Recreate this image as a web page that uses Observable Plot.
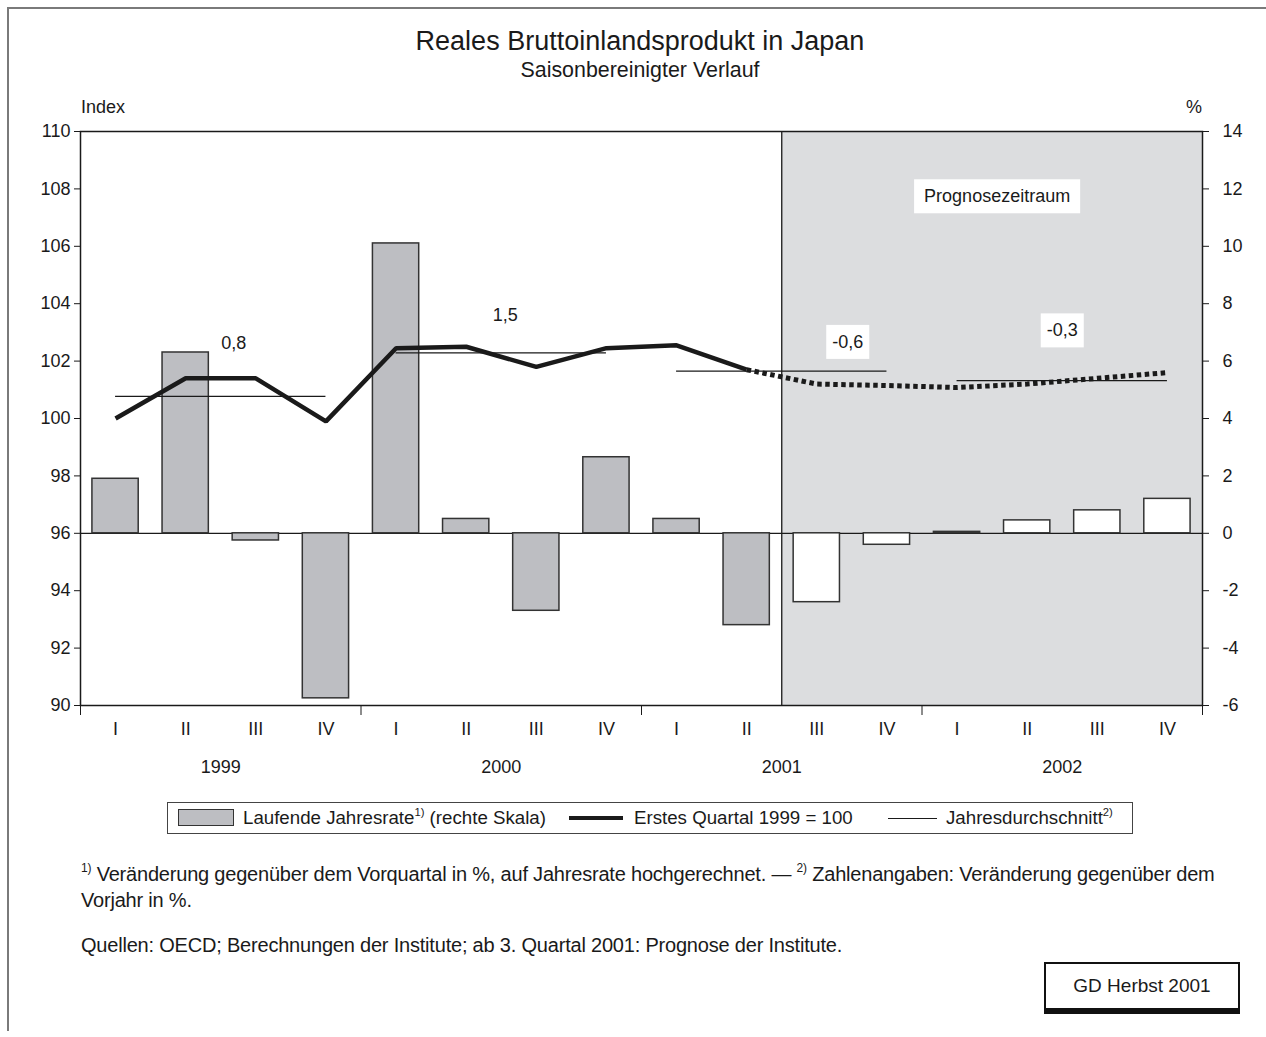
<!DOCTYPE html>
<html><head><meta charset="utf-8">
<script src="https://cdn.jsdelivr.net/npm/d3@7"></script>
<script src="https://cdn.jsdelivr.net/npm/@observablehq/plot@0.6"></script>
<style>
body{margin:0;background:#fff;font-family:"Liberation Sans",Arial,sans-serif;color:#1a1a1a}
#page{position:relative;width:1266px;height:1037px;overflow:hidden;background:#fff}
.abs{position:absolute;white-space:nowrap}
sup{font-size:0.6em;line-height:0;position:relative;top:-0.1em;vertical-align:super}
</style></head><body><div id="page">
<div class="abs" style="left:8px;top:7px;width:1258px;height:0;border-top:2px solid #7a7a7a"></div>
<div class="abs" style="left:7px;top:7px;width:0;height:1024px;border-left:2px solid #7a7a7a"></div>
<div class="abs" style="left:240px;width:800px;top:26px;text-align:center;font-size:27px">Reales Bruttoinlandsprodukt in Japan</div>
<div class="abs" style="left:240px;width:800px;top:58px;text-align:center;font-size:21.4px">Saisonbereinigter Verlauf</div>
<div class="abs" style="left:81px;top:97px;font-size:18px">Index</div>
<div class="abs" style="left:1186px;top:97px;font-size:18px">%</div>
<div id="chart" class="abs" style="left:0;top:90px"></div>
<div class="abs" id="legend" style="left:167px;top:802px;width:964px;height:30px;border:1px solid #444;font-size:18.7px">
  <div class="abs" style="left:10px;top:6px;width:54px;height:15px;background:#bdbec2;border:1.5px solid #333"></div>
  <div class="abs" style="left:75px;top:0;line-height:30px">Laufende Jahresrate<sup>1)</sup> (rechte Skala)</div>
  <div class="abs" style="left:401px;top:13px;width:54px;height:4px;background:#1a1a1a"></div>
  <div class="abs" style="left:466px;top:0;line-height:30px">Erstes Quartal 1999 = 100</div>
  <div class="abs" style="left:720px;top:15px;width:49px;height:1.3px;background:#1a1a1a"></div>
  <div class="abs" style="left:778px;top:0;line-height:30px">Jahresdurchschnitt<sup>2)</sup></div>
</div>
<div class="abs" style="left:81px;top:861px;font-size:20px;line-height:26px;letter-spacing:-0.2px"><sup>1)</sup> Veränderung gegenüber dem Vorquartal in %, auf Jahresrate hochgerechnet. — <sup>2)</sup> Zahlenangaben: Veränderung gegenüber dem<br>Vorjahr in %.</div>
<div class="abs" style="left:81px;top:934px;font-size:20px;letter-spacing:-0.2px">Quellen: OECD; Berechnungen der Institute; ab 3. Quartal 2001: Prognose der Institute.</div>
<div class="abs" style="left:1044px;top:962px;width:192px;height:44px;border:2px solid #111;border-bottom-width:6px;font-size:19px;line-height:44px;text-align:center">GD Herbst 2001</div>
</div>
<script>
// ---- data ----
const quarters = ["I","II","III","IV","I","II","III","IV","I","II","III","IV","I","II","III","IV"];
const years = [1999, 2000, 2001, 2002];
// Laufende Jahresrate, % (right scale)
const rate = [1.9, 6.3, -0.25, -5.75, 10.1, 0.5, -2.7, 2.65, 0.5, -3.2, -2.4, -0.4, 0.05, 0.45, 0.8, 1.2];
// Index, first quarter 1999 = 100 (left scale)
const index = [100.0, 101.4, 101.4, 99.9, 102.45, 102.5, 101.8, 102.45, 102.55, 101.7, 101.2, 101.15, 101.08, 101.2, 101.4, 101.6];
// Jahresdurchschnitt (index level) and labels (change vs. previous year)
const annualAvg = [100.77, 102.29, 101.65, 101.32];
const annualLabel = ["0,8", "1,5", "-0,6", "-0,3"];
const forecastStart = 10; // from 3rd quarter 2001
const indexTicks = [90, 92, 94, 96, 98, 100, 102, 104, 106, 108, 110];
const pctTicks = [-6, -4, -2, 0, 2, 4, 6, 8, 10, 12, 14];

// both scales span 20 units: 0 % corresponds to index 96
const pctToIndex = p => p + 96;

const rows = quarters.map((q, i) => ({i, q, rate: rate[i], index: index[i], forecast: i >= forecastStart}));
const yearsRows = years.map((y, k) => ({k, year: y, avg: annualAvg[k], label: annualLabel[k]}));

const ink = "#1a1a1a";
const barStyle = {x1: d => d.i + 0.17, x2: d => d.i + 0.83, y1: () => pctToIndex(0), y2: d => pctToIndex(d.rate), stroke: "#333", strokeWidth: 1.5};

// label offsets (pixels) per year label
const labelOffsets = [[13, -53], [4, -38], [66, -29], [0, -50]];
const boxedTexts = new Set(["-0,6", "-0,3", "Prognosezeitraum"]);

const plot = Plot.plot({
  width: 1266, height: 700,
  marginLeft: 80, marginRight: 64, marginTop: 41, marginBottom: 85,
  x: {domain: [0, 16], axis: null},
  y: {domain: [90, 110], axis: null},
  style: {fontFamily: "Liberation Sans, Arial, sans-serif", fontSize: "18px", color: ink, background: "transparent", overflow: "visible"},
  marks: [
    Plot.rect([0], {x1: forecastStart, x2: 16, y1: 90, y2: 110, fill: "#dcdddf"}),
    Plot.ruleX([forecastStart], {stroke: ink, strokeWidth: 1.3}),
    Plot.ruleY([pctToIndex(0)], {stroke: ink, strokeWidth: 1.3}),
    Plot.rectY(rows.filter(d => !d.forecast), {...barStyle, fill: "#bdbec2"}),
    Plot.rectY(rows.filter(d => d.forecast), {...barStyle, fill: "white"}),
    Plot.ruleY(yearsRows, {x1: d => d.k * 4 + 0.5, x2: d => d.k * 4 + 3.5, y: "avg", stroke: ink, strokeWidth: 1.2}),
    Plot.line(rows.filter(d => d.i <= 9), {x: d => d.i + 0.5, y: "index", stroke: ink, strokeWidth: 4.5, strokeLinejoin: "miter", strokeLinecap: "butt"}),
    Plot.line(rows.filter(d => d.i >= 9), {x: d => d.i + 0.5, y: "index", stroke: ink, strokeWidth: 5, strokeDasharray: "4.5,3.5", strokeLinecap: "butt"}),
    ...yearsRows.map(d => Plot.text([d], {
      x: r => r.k * 4 + 2, y: "avg", text: "label",
      dx: labelOffsets[d.k][0], dy: labelOffsets[d.k][1],
      fill: ink, fontSize: 18
    })),
    Plot.text(["Prognosezeitraum"], {x: (forecastStart + 16) / 2, frameAnchor: "top", dx: 5, dy: 58, fill: ink, fontSize: 18}),
    Plot.frame({stroke: ink, strokeWidth: 1.5}),
    Plot.axisY(indexTicks, {anchor: "left", tickSize: 6, tickPadding: 4, label: null, fontSize: 18, stroke: ink}),
    Plot.axisY(pctTicks.map(pctToIndex), {anchor: "right", tickSize: 6, tickPadding: 14, tickFormat: d => String(d - 96), label: null, fontSize: 18, stroke: ink}),
    Plot.axisX(quarters.map((q, i) => i + 0.5), {tickSize: 0, tickPadding: 17, tickFormat: d => quarters[Math.floor(d)], label: null, fontSize: 18}),
    Plot.axisX(years.map((y, k) => k * 4 + 2), {tickSize: 0, tickPadding: 55, tickFormat: d => String(years[Math.floor(d / 4)]), label: null, fontSize: 18}),
    Plot.axisX([0, 4, 8, 12, 16], {tickSize: 10, tickFormat: () => "", label: null, stroke: ink})
  ]
});
document.getElementById("chart").appendChild(plot);

// white boxes behind boxed labels
plot.querySelectorAll("text").forEach(t => {
  if (!boxedTexts.has(t.textContent.trim())) return;
  const b = t.getBBox();
  const padX = t.textContent.length > 5 ? 10 : 6, padY = 7;
  const r = document.createElementNS("http://www.w3.org/2000/svg", "rect");
  r.setAttribute("x", b.x - padX);
  r.setAttribute("y", b.y - padY);
  r.setAttribute("width", b.width + 2 * padX);
  r.setAttribute("height", b.height + 2 * padY);
  r.setAttribute("fill", "white");
  ["transform", "dx", "dy"].forEach(a => { const v = t.getAttribute(a); if (v && a === "transform") r.setAttribute(a, v); });
  t.parentNode.insertBefore(r, t);
});
</script>
</body></html>
